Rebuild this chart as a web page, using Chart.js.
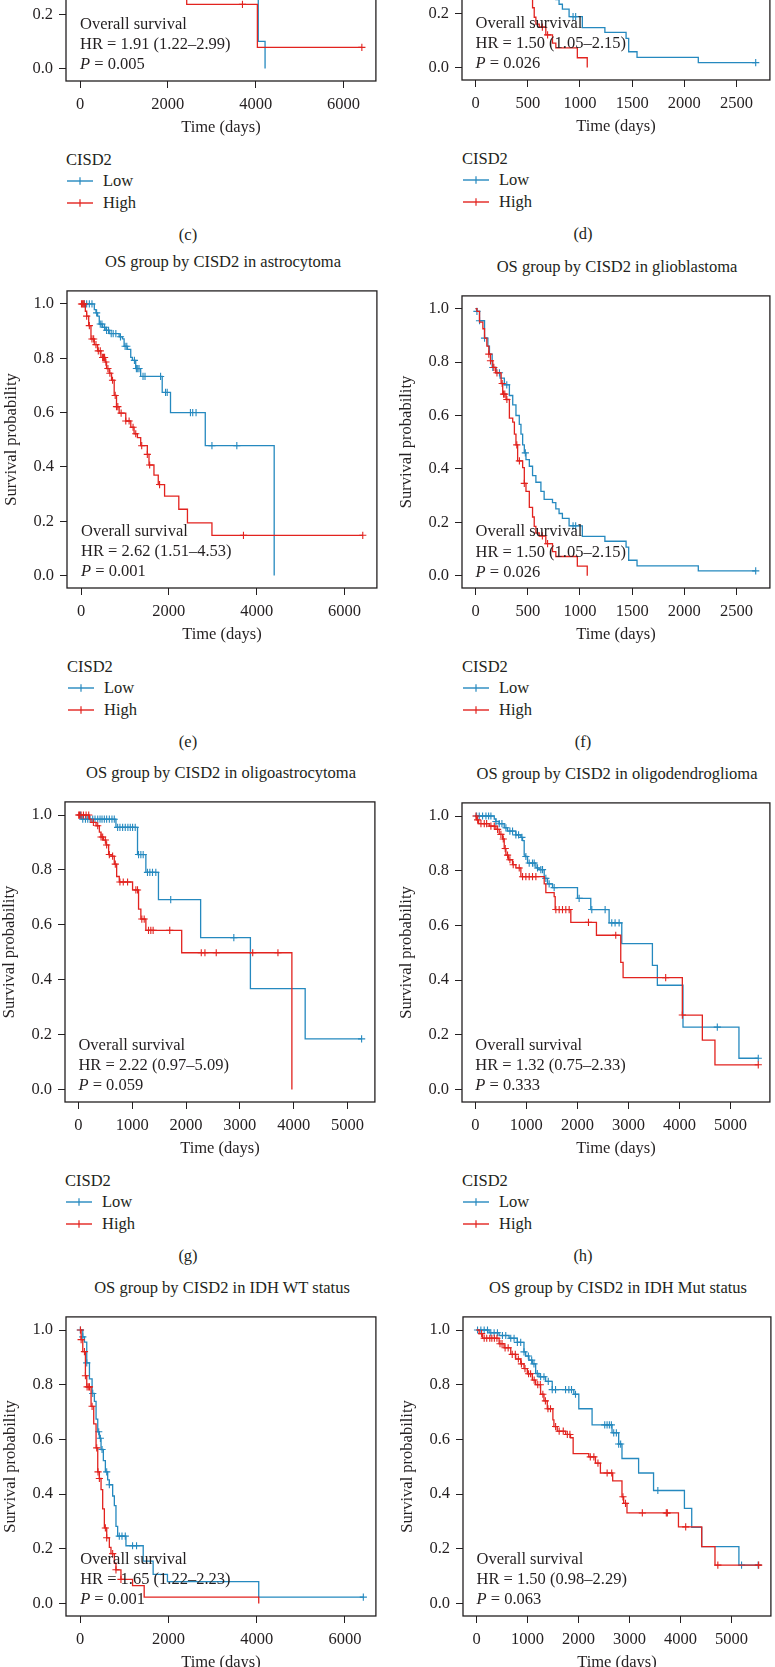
<!DOCTYPE html>
<html>
<head>
<meta charset="utf-8">
<script src="https://cdn.jsdelivr.net/npm/chart.js@4.4.0/dist/chart.umd.min.js"></script>
<style>
html,body{margin:0;padding:0;background:#fff;}
body{width:775px;height:1667px;overflow:hidden;position:relative;font-family:"Liberation Serif","Times New Roman",serif;color:#231f20;}
canvas{position:absolute;}
.t{position:absolute;font-size:16.5px;white-space:nowrap;line-height:1;}
.c{transform:translate(-50%,-50%);}
.l{transform:translateY(-50%);}
</style>
</head>
<body>
<script>
// ---------- tick labels ----------
const yTicks = [0, 0.2, 0.4, 0.6, 0.8, 1.0];
const xTicks6000 = [0, 2000, 4000, 6000];
const xTicks2500 = [0, 500, 1000, 1500, 2000, 2500];
const xTicks5000 = [0, 1000, 2000, 3000, 4000, 5000];

// ---------- (c) only lower part visible ----------
const cLowTime = [0, 4060, 4215];
const cLowSurv = [1, 0.10, 0];
const cLowCensor = [];
const cHighTime = [0, 2430, 4040, 6420];
const cHighSurv = [1, 0.236, 0.078, 0.078];
const cHighCensor = [3700, 6420];

// ---------- glioblastoma (d, f) ----------
const gbmLowTime = [0,13,38,86,118,133,159,197,235,276,324,356,387,419,435,451,467,483,515,546,578,626,657,737,769,800,832,896,1023,1239,1442,1467,1547,2134,2684];
const gbmLowSurv = [1,0.99,0.955,0.89,0.86,0.83,0.78,0.76,0.74,0.715,0.675,0.64,0.60,0.567,0.53,0.49,0.46,0.435,0.41,0.375,0.35,0.316,0.286,0.274,0.25,0.233,0.215,0.187,0.147,0.129,0.107,0.058,0.037,0.018,0.018];
const gbmLowCensor = [13,38,86,165,229,299,477,934,959,2684];
const gbmHighTime = [0,13,38,70,86,108,127,143,165,191,245,260,292,324,356,372,387,403,451,467,483,515,546,562,578,610,673,737,769,975,1070];
const gbmHighSurv = [1,0.99,0.95,0.925,0.89,0.86,0.83,0.805,0.78,0.76,0.72,0.68,0.66,0.59,0.575,0.53,0.49,0.43,0.405,0.346,0.316,0.256,0.22,0.185,0.16,0.149,0.12,0.09,0.072,0.036,0];
const gbmHighCensor = [127,143,175,205,255,268,280,300,395,420,467,640,690];

// ---------- astrocytoma (e) ----------
const astroLowTime = [0,302,340,377,415,491,566,641,868,943,981,1057,1132,1170,1245,1358,1849,2038,2830,4400];
const astroLowSurv = [1,0.979,0.967,0.955,0.926,0.914,0.903,0.891,0.879,0.871,0.844,0.833,0.803,0.792,0.762,0.733,0.674,0.600,0.478,0];
const astroLowCensor = [75,128,189,249,355,438,476,536,581,627,687,732,793,898,1004,1042,1216,1261,1291,1321,1412,1457,1812,1925,1963,2492,2544,2620,2982,3549];
const astroHighTime = [0,98,128,174,226,302,377,453,551,581,642,695,755,808,868,1019,1133,1208,1284,1359,1510,1548,1661,1759,1903,2227,2424,2982,6418];
const astroHighSurv = [1,0.973,0.955,0.920,0.871,0.850,0.827,0.803,0.786,0.762,0.745,0.719,0.663,0.622,0.598,0.569,0.546,0.522,0.508,0.478,0.446,0.407,0.370,0.335,0.292,0.244,0.194,0.148,0.148];
const astroHighCensor = [10,30,50,70,128,189,249,287,340,393,438,491,513,536,566,612,657,717,778,808,838,913,1019,1095,1185,1246,1382,1510,1563,1789,3700,6418];

// ---------- oligoastrocytoma (g) ----------
const oaLowTime = [0,49,697,1098,1253,1487,2271,3196,4214,5263];
const oaLowSurv = [1,0.985,0.955,0.856,0.791,0.692,0.553,0.367,0.184,0.184];
const oaLowCensor = [37,80,130,173,216,265,308,358,401,438,481,524,574,623,666,728,771,821,870,919,963,1006,1055,1117,1160,1203,1283,1327,1376,1438,1715,2888,5263];
const oaHighTime = [0,204,235,327,389,420,463,512,561,605,666,710,759,1006,1117,1160,1253,1919,3967];
const oaHighSurv = [1,0.985,0.973,0.961,0.938,0.920,0.909,0.891,0.856,0.850,0.821,0.776,0.756,0.727,0.657,0.621,0.580,0.498,0];
const oaHighCensor = [5,20,49,93,142,191,278,358,420,450,500,524,574,635,685,771,833,913,1067,1098,1178,1222,1302,1345,1388,1697,2283,2351,2561,3239,3708];

// ---------- oligodendroglioma (h) ----------
const odLowTime = [0,372,404,469,567,632,795,893,926,958,978,1024,1187,1252,1350,1415,1513,2002,2262,2621,2869,3469,3566,4068,5164,5542];
const odLowSurv = [1,0.989,0.980,0.972,0.957,0.945,0.931,0.922,0.910,0.857,0.852,0.828,0.810,0.804,0.772,0.752,0.738,0.699,0.658,0.609,0.533,0.454,0.381,0.228,0.114,0.114];
const odLowCensor = [26,78,143,209,261,306,404,469,522,600,678,730,795,848,913,991,1056,1121,1154,1219,1284,1317,1382,1447,1545,2034,2282,2543,2673,2738,2817,4740,5542];
const odHighTime = [0,26,65,274,404,469,535,567,600,652,730,795,893,1350,1382,1545,1565,1871,2373,2849,2895,4055,4447,4694,5555];
const odHighSurv = [1,0.986,0.972,0.963,0.951,0.933,0.916,0.881,0.857,0.840,0.822,0.810,0.778,0.752,0.720,0.705,0.658,0.611,0.564,0.465,0.409,0.272,0.180,0.090,0.090];
const odHighCensor = [13,46,111,176,222,306,372,437,502,548,587,632,678,743,861,926,991,1056,1121,1187,1578,1643,1708,1773,1839,2217,2751,3729,4055,5542];

// ---------- IDH WT ----------
const wtLowTime = [0,60,98,150,211,271,323,361,399,436,474,526,572,624,662,737,775,812,850,1038,1429,1654,1978,4046,6415];
const wtLowSurv = [1,0.975,0.956,0.880,0.821,0.768,0.739,0.674,0.628,0.604,0.563,0.522,0.481,0.452,0.434,0.393,0.358,0.282,0.246,0.211,0.155,0.106,0.080,0.023,0.023];
const wtLowCensor = [5,60,150,286,421,459,497,602,662,887,948,1023,1188,1278,6415];
const wtHighTime = [0,23,60,120,150,248,308,361,399,436,474,511,549,602,662,699,775,812,925,1188,1451,4046];
const wtHighSurv = [1,0.965,0.921,0.833,0.792,0.721,0.657,0.569,0.481,0.457,0.416,0.346,0.276,0.240,0.205,0.182,0.147,0.123,0.088,0.065,0.023,0];
const wtHighCensor = [8,23,98,120,158,196,211,271,376,406,436,572,602,737,812,925];

// ---------- IDH Mut ----------
const mutLowTime = [0,247,443,638,800,930,963,1028,1094,1159,1224,1354,1484,1907,2005,2265,2656,2786,2851,3177,3470,4075,4218,4414,5143,5520];
const mutLowSurv = [1,0.99,0.98,0.97,0.955,0.92,0.905,0.89,0.876,0.841,0.829,0.812,0.782,0.765,0.712,0.653,0.624,0.583,0.530,0.477,0.413,0.348,0.278,0.208,0.140,0.140];
const mutLowCensor = [20,85,150,215,280,345,410,508,573,671,736,801,866,931,1016,1081,1126,1191,1256,1322,1406,1484,1549,1745,1810,1862,1940,2513,2559,2604,2643,2689,2741,2786,2825,3554,5195,5520];
const mutHighTime = [0,52,117,443,540,671,768,866,931,996,1094,1159,1256,1322,1387,1497,1517,1582,1745,1842,1894,2200,2331,2428,2669,2851,2884,2949,3958,4414,4674,5586];
const mutHighSurv = [1,0.987,0.97,0.95,0.935,0.911,0.894,0.876,0.859,0.84,0.817,0.80,0.765,0.741,0.712,0.671,0.647,0.63,0.618,0.606,0.548,0.536,0.513,0.477,0.448,0.39,0.366,0.331,0.28,0.208,0.14,0.14];
const mutHighCensor = [100,150,200,260,300,350,400,460,500,560,620,700,760,820,880,950,1020,1060,1130,1200,1250,1300,1350,1400,1450,1550,1620,1700,1780,1830,2230,2300,2380,2560,2650,2870,2920,3250,3720,3740,4100,4730,5530];

// ---------- texts ----------
const groupNames = ['Low', 'High'];
const legendTitle = 'CISD2';
const titles = {e:'OS group by CISD2 in astrocytoma', f:'OS group by CISD2 in glioblastoma', g:'OS group by CISD2 in oligoastrocytoma', h:'OS group by CISD2 in oligodendroglioma', i:'OS group by CISD2 in IDH WT status', j:'OS group by CISD2 in IDH Mut status'};
const hrTexts = {c:'HR = 1.91 (1.22–2.99)', d:'HR = 1.50 (1.05–2.15)', e:'HR = 2.62 (1.51–4.53)', f:'HR = 1.50 (1.05–2.15)', g:'HR = 2.22 (0.97–5.09)', h:'HR = 1.32 (0.75–2.33)', i:'HR = 1.65 (1.22–2.23)', j:'HR = 1.50 (0.98–2.29)'};
const pTexts = {c:'0.005', d:'0.026', e:'0.001', f:'0.026', g:'0.059', h:'0.333', i:'0.001', j:'0.063'};

const BLUE = '#2589bf', RED = '#e2231f', INK = '#231f20';
const FONT = '"Liberation Serif", "Times New Roman", serif';
const FS = 16.5;
Chart.defaults.font.family = FONT;
Chart.defaults.font.size = FS;
Chart.defaults.color = INK;

const panels = [
  {k:'c', left:66,  top:-230, w:312, h:311, xMin:-320, xMax:6740, xt:xTicks6000, low:[cLowTime,cLowSurv,cLowCensor], high:[cHighTime,cHighSurv,cHighCensor], labX:188},
  {k:'d', left:462, top:-231, w:310, h:311, xMin:-130, xMax:2820, xt:xTicks2500, low:[gbmLowTime,gbmLowSurv,gbmLowCensor], high:[gbmHighTime,gbmHighSurv,gbmHighCensor], labX:583},
  {k:'e', left:67,  top:277, w:312, h:311, xMin:-320, xMax:6740, xt:xTicks6000, low:[astroLowTime,astroLowSurv,astroLowCensor], high:[astroHighTime,astroHighSurv,astroHighCensor], labX:188},
  {k:'f', left:462, top:282, w:310, h:306, xMin:-130, xMax:2820, xt:xTicks2500, low:[gbmLowTime,gbmLowSurv,gbmLowCensor], high:[gbmHighTime,gbmHighSurv,gbmHighCensor], labX:583},
  {k:'g', left:65,  top:788, w:312, h:314, xMin:-250, xMax:5510, xt:xTicks5000, low:[oaLowTime,oaLowSurv,oaLowCensor], high:[oaHighTime,oaHighSurv,oaHighCensor], labX:188},
  {k:'h', left:462, top:789, w:310, h:313, xMin:-260, xMax:5770, xt:xTicks5000, low:[odLowTime,odLowSurv,odLowCensor], high:[odHighTime,odHighSurv,odHighCensor], labX:583},
  {k:'i', left:66,  top:1303, w:312, h:313, xMin:-320, xMax:6700, xt:xTicks6000, low:[wtLowTime,wtLowSurv,wtLowCensor], high:[wtHighTime,wtHighSurv,wtHighCensor], labX:188},
  {k:'j', left:463, top:1303, w:310, h:313, xMin:-265, xMax:5770, xt:xTicks5000, low:[mutLowTime,mutLowSurv,mutLowCensor], high:[mutHighTime,mutHighSurv,mutHighCensor], labX:583}
];

function steps(times, surv){ return times.map((t,i)=>({x:t, y:surv[i]})); }
function censors(cens, times, surv){
  return cens.map(t=>{ let s = surv[0]; for(let i=0;i<times.length;i++){ if(times[i] <= t) s = surv[i]; } return {x:t, y:s}; });
}

const framePlugin = {
  id:'frame',
  afterDatasetsDraw(chart, args, opts){
    const {ctx, chartArea:a, scales:{x, y}} = chart;
    ctx.save();
    const px = x.getPixelForValue(0), py = y.getPixelForValue(0);
    ctx.fillStyle = INK; ctx.textAlign = 'left'; ctx.textBaseline = 'middle';
    ctx.font = FS + 'px ' + FONT;
    ctx.fillText('Overall survival', px, py - 44);
    ctx.fillText(opts.hr, px, py - 23.5);
    ctx.font = 'italic ' + FS + 'px ' + FONT;
    ctx.fillText('P', px, py - 3.5);
    const wP = ctx.measureText('P').width;
    ctx.font = FS + 'px ' + FONT;
    ctx.fillText(' = ' + opts.p, px + wP, py - 3.5);
    ctx.strokeStyle = INK; ctx.lineWidth = 1.3;
    ctx.strokeRect(a.left, a.top, a.right - a.left, a.bottom - a.top);
    ctx.restore();
  }
};

function addText(txt, x, y, cls){
  const d = document.createElement('div');
  d.className = 't ' + cls;
  d.style.left = x + 'px'; d.style.top = y + 'px';
  d.textContent = txt;
  document.body.appendChild(d);
  return d;
}
function legendIcon(color, x, y){
  const ns = 'http://www.w3.org/2000/svg';
  const s = document.createElementNS(ns, 'svg');
  s.setAttribute('width', '28'); s.setAttribute('height', '12');
  s.style.position = 'absolute'; s.style.left = x + 'px'; s.style.top = (y - 6) + 'px';
  const l1 = document.createElementNS(ns, 'line');
  l1.setAttribute('x1', '0'); l1.setAttribute('y1', '6'); l1.setAttribute('x2', '26'); l1.setAttribute('y2', '6');
  l1.setAttribute('stroke', color); l1.setAttribute('stroke-width', '1.4');
  const l2 = document.createElementNS(ns, 'line');
  l2.setAttribute('x1', '13'); l2.setAttribute('y1', '2.2'); l2.setAttribute('x2', '13'); l2.setAttribute('y2', '9.8');
  l2.setAttribute('stroke', color); l2.setAttribute('stroke-width', '1.2');
  s.appendChild(l1); s.appendChild(l2);
  document.body.appendChild(s);
}

panels.forEach(p=>{
  const cw = p.w + 70, ch = p.h + 64;
  const cv = document.createElement('canvas');
  cv.width = cw; cv.height = ch;
  cv.style.width = cw + 'px'; cv.style.height = ch + 'px';
  cv.style.left = (p.left - 67) + 'px'; cv.style.top = (p.top - 2) + 'px';
  document.body.appendChild(cv);

  const [lt, ls, lc] = p.low, [ht, hs, hc] = p.high;
  new Chart(cv.getContext('2d'), {
    type: 'line',
    data: { datasets: [
      {label: groupNames[1], data: steps(ht, hs), borderColor: RED, borderWidth: 1.3, pointRadius: 0, stepped: true, fill: false},
      {label: groupNames[1] + ' censor', data: censors(hc, ht, hs), showLine: false, pointStyle: 'cross', pointRadius: 3.6, pointBorderColor: RED, pointBorderWidth: 1.1, pointBackgroundColor: RED},
      {label: groupNames[0], data: steps(lt, ls), borderColor: BLUE, borderWidth: 1.3, pointRadius: 0, stepped: true, fill: false},
      {label: groupNames[0] + ' censor', data: censors(lc, lt, ls), showLine: false, pointStyle: 'cross', pointRadius: 3.6, pointBorderColor: BLUE, pointBorderWidth: 1.1, pointBackgroundColor: BLUE}
    ]},
    options: {
      responsive: false, animation: false, devicePixelRatio: 1,
      layout: {padding: {left: 0, top: 2, right: 3, bottom: 0}},
      plugins: {legend: {display: false}, tooltip: {enabled: false}, frame: {hr: hrTexts[p.k], p: pTexts[p.k]}},
      scales: {
        x: {
          type: 'linear', min: p.xMin, max: p.xMax,
          afterFit: s => { s.height = 62; },
          afterBuildTicks: s => { s.ticks = p.xt.map(v => ({value: v})); },
          ticks: {autoSkip: false, maxRotation: 0, padding: 6.5, color: INK, font: {size: FS}, callback: v => String(v)},
          grid: {display: true, drawOnChartArea: false, drawTicks: true, tickLength: 7, color: INK, lineWidth: 1},
          border: {display: false},
          title: {display: true, text: 'Time (days)', color: INK, font: {size: FS}, padding: {top: 0, bottom: 5}}
        },
        y: {
          type: 'linear', min: -0.046, max: 1.048,
          afterFit: s => { s.width = 67; },
          afterBuildTicks: s => { s.ticks = yTicks.map(v => ({value: v})); },
          ticks: {autoSkip: false, padding: 6, color: INK, font: {size: FS}, callback: v => Number(v).toFixed(1)},
          grid: {display: true, drawOnChartArea: false, drawTicks: true, tickLength: 7, color: INK, lineWidth: 1},
          border: {display: false},
          title: {display: true, text: 'Survival probability', color: INK, font: {size: FS}, padding: {top: 2.2, bottom: 0}}
        }
      }
    },
    plugins: [framePlugin]
  });

  if (titles[p.k]) addText(titles[p.k], p.left + p.w / 2, p.top - 15, 'c');
  const b = p.top + p.h;
  if (b + 120 < 1667) {
    addText(legendTitle, p.left, b + 79, 'l');
    legendIcon(BLUE, p.left + 1, b + 100);
    addText(groupNames[0], p.left + 37, b + 100, 'l');
    legendIcon(RED, p.left + 1, b + 122);
    addText(groupNames[1], p.left + 37, b + 122, 'l');
    addText('(' + p.k + ')', p.labX, b + 154, 'c');
  }
});
</script>
</body>
</html>
